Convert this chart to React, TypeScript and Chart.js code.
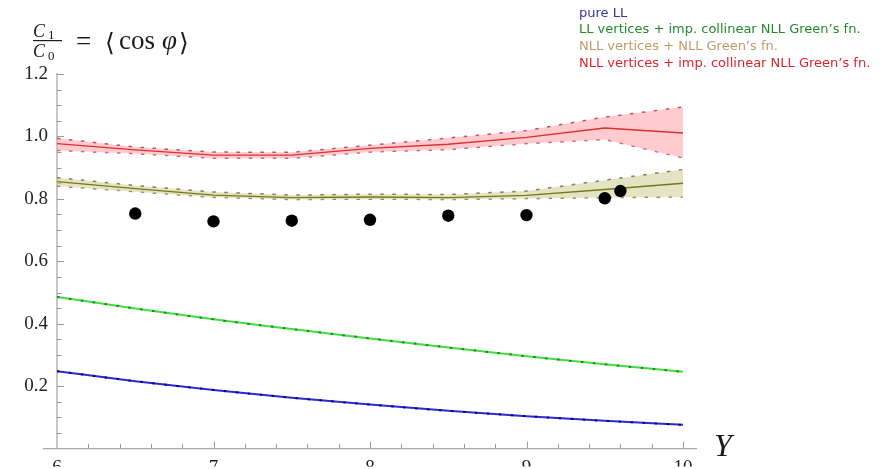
import React, { useEffect, useRef } from 'react';
import { Chart, registerables } from 'chart.js';

Chart.register(...registerables);

// Rapidity grid of the theory curves
const rapidity = [6, 6.5, 7, 7.5, 8, 8.5, 9, 9.5, 10];

// <cos φ> for the four approximations
const pureLL = [0.248, 0.216, 0.188, 0.163, 0.141, 0.121, 0.104, 0.089, 0.076];
const llImpColl = [0.486, 0.449, 0.414, 0.383, 0.353, 0.324, 0.296, 0.27, 0.246];
const nllNll = [0.855, 0.833, 0.812, 0.804, 0.806, 0.804, 0.811, 0.83, 0.85];
const nllNllUpper = [0.868, 0.843, 0.822, 0.812, 0.815, 0.814, 0.825, 0.86, 0.894];
const nllNllLower = [0.841, 0.823, 0.805, 0.798, 0.799, 0.798, 0.801, 0.804, 0.806];
const nllImpColl = [0.977, 0.957, 0.94, 0.94, 0.962, 0.975, 0.997, 1.027, 1.011];
const nllImpCollUpper = [0.994, 0.966, 0.95, 0.949, 0.972, 0.995, 1.019, 1.062, 1.094];
const nllImpCollLower = [0.955, 0.945, 0.93, 0.93, 0.95, 0.958, 0.977, 0.99, 0.931];

// Measured points
const measuredY = [6.5, 7, 7.5, 8, 8.5, 9, 9.5, 9.6];
const measuredCos = [0.753, 0.728, 0.73, 0.733, 0.746, 0.748, 0.802, 0.825];

// Axis ranges and label steps
const xRange = [6, 10];
const yRange = [0, 1.2];
const xLabelStep = 1;
const yLabelStep = 0.2;
const xMinorStep = 0.2;
const yMinorStep = 0.05;

const legendLabels = [
  'pure LL',
  'LL vertices + imp. collinear NLL Green\u2019s fn.',
  'NLL vertices + NLL Green\u2019s fn.',
  'NLL vertices + imp. collinear NLL Green\u2019s fn.',
];
const legendColors = ['#3434a8', '#23892a', '#c09a6a', '#de2430'];

const pts = (xs: number[], ys: number[]) => xs.map((x, i) => ({ x, y: ys[i] }));

const axesPlugin = {
  id: 'mathAxes',
  beforeDatasetsDraw(chart: any) {
    const { ctx } = chart;
    const xs = chart.scales.x;
    const ys = chart.scales.y;
    const x0 = xs.getPixelForValue(xRange[0]);
    const y0 = ys.getPixelForValue(yRange[0]);
    ctx.save();
    ctx.strokeStyle = '#a9a9a9';
    ctx.lineWidth = 1.3;
    ctx.beginPath();
    ctx.moveTo(xs.getPixelForValue(xRange[0] - 0.09), y0);
    ctx.lineTo(xs.getPixelForValue(xRange[1] + 0.09), y0);
    ctx.moveTo(x0, ys.getPixelForValue(yRange[1]) - 1);
    ctx.lineTo(x0, y0);
    ctx.stroke();
    ctx.lineWidth = 1;
    ctx.strokeStyle = '#9a9a9a';
    ctx.beginPath();
    const nx = Math.round((xRange[1] - xRange[0]) / xMinorStep);
    for (let i = 1; i <= nx; i++) {
      const v = xRange[0] + i * xMinorStep;
      const major = i % Math.round(xLabelStep / xMinorStep) === 0;
      const px = Math.round(xs.getPixelForValue(v)) + 0.5;
      ctx.moveTo(px, y0);
      ctx.lineTo(px, y0 - (major ? 7 : 4.5));
    }
    const ny = Math.round((yRange[1] - yRange[0]) / yMinorStep);
    for (let i = 1; i <= ny; i++) {
      const v = yRange[0] + i * yMinorStep;
      const major = i % Math.round(yLabelStep / yMinorStep) === 0;
      const py = Math.round(ys.getPixelForValue(v)) + 0.5;
      ctx.moveTo(x0, py);
      ctx.lineTo(x0 + (major ? 7 : 4.5), py);
    }
    ctx.stroke();
    ctx.restore();
  },
  afterDraw(chart: any) {
    const { ctx } = chart;
    ctx.save();
    // axis title
    ctx.fillStyle = '#1a1a1a';
    ctx.font = 'italic 32px "Liberation Serif"';
    ctx.textBaseline = 'alphabetic';
    ctx.fillText('Y', 714, 456);

    // vertical label: C1/C0 = <cos φ>
    ctx.font = 'italic 18px "Liberation Serif"';
    ctx.fillText('C', 33, 37);
    ctx.fillText('C', 33, 57);
    ctx.font = '13px "Liberation Serif"';
    ctx.fillText('1', 48, 39);
    ctx.fillText('0', 48, 60);
    ctx.fillRect(33, 40, 29, 1.2);
    ctx.font = '27px "Liberation Serif"';
    ctx.fillText('=', 76, 50);
    ctx.font = '25px "DejaVu Serif"';
    ctx.fillText('\u27e8', 105, 51);
    ctx.font = '27px "Liberation Serif"';
    ctx.fillText('cos', 119, 49);
    const cosW = ctx.measureText('cos').width;
    ctx.font = 'italic 27px "Liberation Serif"';
    const phiX = 119 + cosW + 7;
    ctx.fillText('\u03c6', phiX, 49);
    const phiW = ctx.measureText('\u03c6').width;
    ctx.font = '25px "DejaVu Serif"';
    ctx.fillText('\u27e9', phiX + phiW + 2, 51);

    // legend
    ctx.font = '13px "DejaVu Sans"';
    legendLabels.forEach((t, i) => {
      ctx.fillStyle = legendColors[i];
      ctx.fillText(t, 579, 16.5 + i * 16.8);
    });
    ctx.restore();
  },
};

export default function App() {
  const ref = useRef<HTMLCanvasElement>(null);

  useEffect(() => {
    if (!ref.current) return;
    const chart = new Chart(ref.current, {
      type: 'line',
      data: {
        datasets: [
          {
            label: 'data',
            data: pts(measuredY, measuredCos),
            showLine: false,
            pointRadius: 6.2,
            pointBackgroundColor: '#000',
            pointBorderWidth: 0,
            borderColor: '#000',
          },
          {
            label: legendLabels[3],
            data: pts(rapidity, nllImpColl),
            borderColor: '#de3030',
            borderWidth: 1.3,
            pointRadius: 0,
            tension: 0,
          },
          {
            label: 'upper',
            data: pts(rapidity, nllImpCollUpper),
            borderColor: 'rgba(175,45,75,0.8)',
            borderWidth: 1.5,
            borderDash: [3.5, 8.5],
            pointRadius: 0,
            tension: 0,
            fill: '+1',
            backgroundColor: 'rgba(255,160,165,0.55)',
          },
          {
            label: 'lower',
            data: pts(rapidity, nllImpCollLower),
            borderColor: 'rgba(175,45,75,0.8)',
            borderWidth: 1.5,
            borderDash: [3.5, 8.5],
            pointRadius: 0,
            tension: 0,
          },
          {
            label: legendLabels[2],
            data: pts(rapidity, nllNll),
            borderColor: '#787815',
            borderWidth: 1.3,
            pointRadius: 0,
            tension: 0,
          },
          {
            label: 'upper',
            data: pts(rapidity, nllNllUpper),
            borderColor: 'rgba(110,110,60,0.85)',
            borderWidth: 1.5,
            borderDash: [3.5, 8.5],
            pointRadius: 0,
            tension: 0,
            fill: '+1',
            backgroundColor: 'rgba(205,205,150,0.55)',
          },
          {
            label: 'lower',
            data: pts(rapidity, nllNllLower),
            borderColor: 'rgba(110,110,60,0.85)',
            borderWidth: 1.5,
            borderDash: [3.5, 8.5],
            pointRadius: 0,
            tension: 0,
          },
          {
            label: 'markers',
            data: pts(rapidity, llImpColl),
            borderColor: 'rgba(20,110,20,0.8)',
            borderWidth: 2,
            borderDash: [2.5, 9.5],
            pointRadius: 0,
            cubicInterpolationMode: 'monotone',
          },
          {
            label: legendLabels[1],
            data: pts(rapidity, llImpColl),
            borderColor: '#3ee03e',
            borderWidth: 2,
            pointRadius: 0,
            cubicInterpolationMode: 'monotone',
          },
          {
            label: 'markers',
            data: pts(rapidity, pureLL),
            borderColor: 'rgba(0,0,90,0.85)',
            borderWidth: 2,
            borderDash: [2.5, 9.5],
            pointRadius: 0,
            cubicInterpolationMode: 'monotone',
          },
          {
            label: legendLabels[0],
            data: pts(rapidity, pureLL),
            borderColor: '#2a2ad8',
            borderWidth: 2,
            pointRadius: 0,
            cubicInterpolationMode: 'monotone',
          },
        ] as any,
      },
      options: {
        animation: false,
        responsive: false,
        events: [],
        layout: { padding: { left: 0, top: 74, right: 208, bottom: 0 } },
        plugins: {
          legend: { display: false },
          tooltip: { enabled: false },
        },
        scales: {
          x: {
            type: 'linear',
            min: xRange[0],
            max: xRange[1],
            grid: { display: false, drawTicks: false },
            border: { display: false },
            ticks: {
              stepSize: xLabelStep,
              padding: 8,
              color: '#222',
              font: { family: '"Liberation Serif"', size: 19 },
            },
            afterFit: (s: any) => {
              s.height = 18;
            },
          },
          y: {
            type: 'linear',
            min: yRange[0],
            max: yRange[1],
            grid: { display: false, drawTicks: false },
            border: { display: false },
            ticks: {
              stepSize: yLabelStep,
              padding: 9,
              color: '#222',
              font: { family: '"Liberation Serif"', size: 19 },
              callback: (v: any) => (Math.abs(v) < 1e-9 ? '' : Number(v).toFixed(1)),
            },
            afterFit: (s: any) => {
              s.width = 57;
            },
          },
        },
      },
      plugins: [axesPlugin],
    });
    return () => chart.destroy();
  }, []);

  return (
    <div style={{ position: 'fixed', left: 0, top: 0, width: 891, height: 469, background: '#fff' }}>
      <canvas ref={ref} width={891} height={469} />
    </div>
  );
}
